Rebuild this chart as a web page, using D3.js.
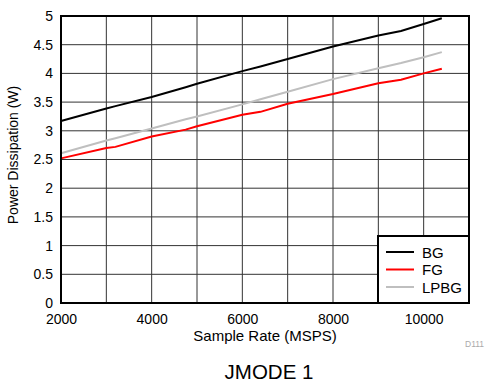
<!DOCTYPE html>
<html>
<head>
<meta charset="utf-8">
<script src="https://cdn.jsdelivr.net/npm/d3@7"></script>
<style>
  body { margin: 0; background: #fff; }
  text { font-family: "Liberation Sans", Arial, sans-serif; }
</style>
</head>
<body>
<div id="chart"></div>
<script>
// data
const sampleRates = [2000, 3000, 3200, 4000, 4750, 5000, 6000, 6400, 7000, 8000, 9000, 9500, 10000, 10400];
const bgPower   = [3.17, 3.39, 3.43, 3.59, 3.76, 3.82, 4.04, 4.12, 4.25, 4.47, 4.66, 4.74, 4.86, 4.96];
const fgPower   = [2.52, 2.70, 2.72, 2.90, 3.02, 3.08, 3.28, 3.33, 3.47, 3.64, 3.83, 3.89, 4.00, 4.08];
const lpbgPower = [2.61, 2.83, 2.87, 3.04, 3.20, 3.25, 3.46, 3.55, 3.68, 3.90, 4.09, 4.18, 4.28, 4.37];
const seriesNames = ["BG", "FG", "LPBG"];
const seriesColors = ["#000000", "#ff0000", "#bfbfbf"];
const xTicks = [2000, 4000, 6000, 8000, 10000];
const yTicks = [0, 0.5, 1, 1.5, 2, 2.5, 3, 3.5, 4, 4.5, 5];

let width = 490, height = 383;
let margin = {left: 61, top: 16, right: 21, bottom: 80};

let svg = d3.select("#chart")
    .append("svg")
    .attr("width", width)
    .attr("height", height);

let x = d3.scaleLinear().domain([2000, 11000]).range([margin.left, width - margin.right]);
let y = d3.scaleLinear().domain([0, 5]).range([height - margin.bottom, margin.top]);

// grid
svg.append("g").selectAll("line")
    .data(d3.range(3000, 11000, 1000))
    .enter().append("line")
    .attr("x1", d => x(d)).attr("x2", d => x(d))
    .attr("y1", y(0)).attr("y2", y(5))
    .attr("stroke", "#333").attr("stroke-width", 1);
svg.append("g").selectAll("line")
    .data(yTicks.slice(1, -1))
    .enter().append("line")
    .attr("x1", x(2000)).attr("x2", x(11000))
    .attr("y1", d => y(d)).attr("y2", d => y(d))
    .attr("stroke", "#333").attr("stroke-width", 1);

// axes (labels only)
let xAxis = svg.append("g")
    .attr("transform", "translate(0," + y(0) + ")")
    .call(d3.axisBottom(x).tickValues(xTicks).tickSize(0).tickPadding(11).tickFormat(d3.format("d")));
let yAxis = svg.append("g")
    .attr("transform", "translate(" + x(2000) + ",0)")
    .call(d3.axisLeft(y).tickValues(yTicks).tickSize(0).tickPadding(8).tickFormat(d => String(d)));
[xAxis, yAxis].forEach(a => {
    a.select(".domain").remove();
    a.selectAll("text").attr("font-size", 14).attr("fill", "#000")
        .attr("font-family", "Liberation Sans, Arial, sans-serif");
});

// series
let allSeries = [bgPower, fgPower, lpbgPower];
let line = d3.line()
    .x((d, i) => x(sampleRates[i]))
    .y(d => y(d));
// draw LPBG first so black/red sit on top
[2, 1, 0].forEach(k => {
    svg.append("path")
        .datum(allSeries[k])
        .attr("d", line)
        .attr("fill", "none")
        .attr("stroke", seriesColors[k])
        .attr("stroke-width", 2);
});

// frame
svg.append("rect")
    .attr("x", x(2000)).attr("y", y(5))
    .attr("width", x(11000) - x(2000)).attr("height", y(0) - y(5))
    .attr("fill", "none").attr("stroke", "#000").attr("stroke-width", 2);

// legend
let lg = svg.append("g");
lg.append("rect")
    .attr("x", 378).attr("y", 236)
    .attr("width", x(11000) - 378).attr("height", y(0) - 236)
    .attr("fill", "#fff").attr("stroke", "#000").attr("stroke-width", 2);
seriesNames.forEach((name, i) => {
    let ly = 252 + i * 17.5;
    lg.append("line")
        .attr("x1", 386).attr("x2", 414)
        .attr("y1", ly).attr("y2", ly)
        .attr("stroke", seriesColors[i]).attr("stroke-width", 2);
    lg.append("text")
        .attr("x", 422).attr("y", ly + 5.5)
        .attr("font-size", 15)
        .text(name);
});

// titles
svg.append("text")
    .attr("x", 265).attr("y", 341)
    .attr("text-anchor", "middle").attr("font-size", 15)
    .text("Sample Rate (MSPS)");
svg.append("text")
    .attr("transform", "translate(18,155) rotate(-90)")
    .attr("text-anchor", "middle").attr("font-size", 14)
    .text("Power Dissipation (W)");
svg.append("text")
    .attr("x", 465).attr("y", 347)
    .attr("font-size", 8.5).attr("fill", "#aaa")
    .text("D111");
svg.append("text")
    .attr("x", 269).attr("y", 379)
    .attr("text-anchor", "middle").attr("font-size", 20.5)
    .text("JMODE 1");
</script>
</body>
</html>
